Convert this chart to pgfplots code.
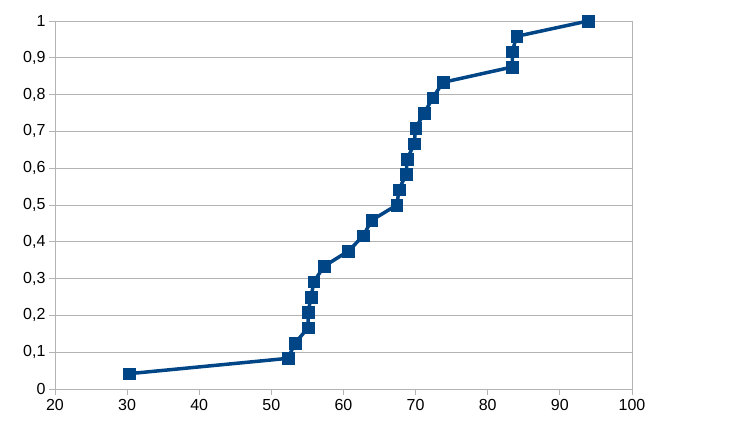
\documentclass[border=0pt]{standalone}
\usepackage{pgfplots}
\pgfplotsset{compat=1.18}
\usepackage{fontspec}
\setmainfont{Liberation Sans}
\definecolor{lineblue}{HTML}{004586}
\definecolor{gridgray}{HTML}{B3B3B3}
\begin{document}
\begin{tikzpicture}[x=1pt,y=1pt]
\path[use as bounding box] (0,0) rectangle (756,425);
\begin{axis}[
  at={(55pt,36pt)}, anchor=south west,
  scale only axis, width=577pt, height=368pt,
  xmin=20, xmax=100, ymin=0, ymax=1,
  xtick={20,30,40,50,60,70,80,90,100},
  ytick={0,0.1,0.2,0.3,0.4,0.5,0.6,0.7,0.8,0.9,1},
  ymajorgrids,
  grid style={draw=gridgray, line width=0.8pt},
  axis line style={draw=gridgray, line width=0.8pt},
  tick style={draw=gridgray, line width=0.8pt},
  major tick length=6pt,
  tick align=outside,
  tick pos=left,
  /pgf/number format/assume math mode=true,
  /pgf/number format/use comma,
  ticklabel style={font=\fontsize{16}{18}\selectfont},
  yticklabel style={xshift=0pt},
  xticklabel style={yshift=-1pt},
]
\addplot[lineblue, line width=3.5pt, mark=square*, mark size=5.8pt, mark options={fill=lineblue, draw=lineblue, line width=0.5pt}] coordinates {
(30.3,0.04167)
(52.3,0.08333)
(53.3,0.125)
(55.1,0.16667)
(55.1,0.20833)
(55.5,0.25)
(55.9,0.29167)
(57.3,0.33333)
(60.7,0.375)
(62.75,0.41667)
(63.9,0.45833)
(67.4,0.5)
(67.7,0.54167)
(68.66,0.58333)
(68.85,0.625)
(69.8,0.66667)
(70.0,0.70833)
(71.2,0.75)
(72.4,0.79167)
(73.8,0.83333)
(83.4,0.875)
(83.4,0.91667)
(84.0,0.95833)
(93.9,1)
};
\end{axis}
\end{tikzpicture}
\end{document}
